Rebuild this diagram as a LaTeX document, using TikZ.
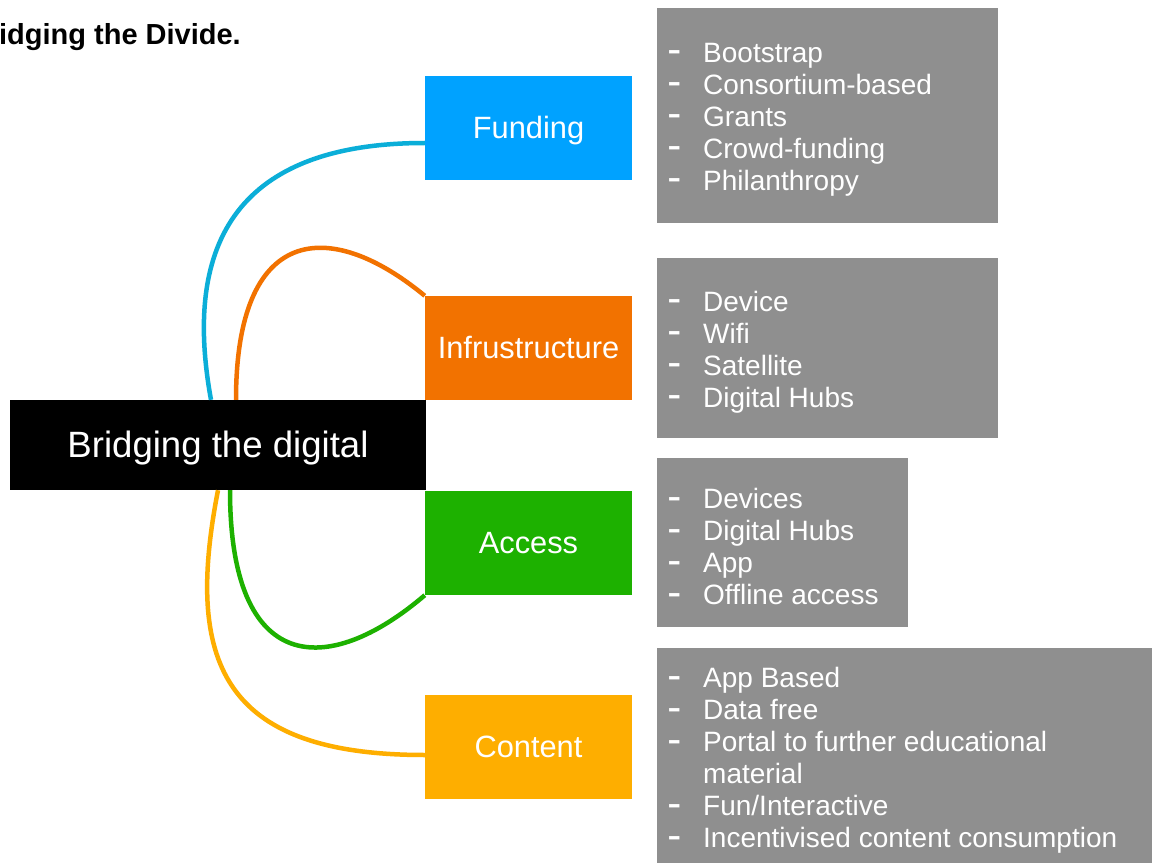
\documentclass[tikz,border=0pt]{standalone}
\usepackage{fontspec}
\setmainfont{Liberation Sans}
\definecolor{fundblue}{HTML}{00A2FF}
\definecolor{linkblue}{HTML}{0BAED8}
\definecolor{infraorange}{HTML}{F27200}
\definecolor{accgreen}{HTML}{1DB100}
\definecolor{contyellow}{HTML}{FEAE00}
\definecolor{listgray}{HTML}{8F8F8F}
\newcommand{\itemdash}{\makebox[35pt][l]{\hspace{-0.5pt}\raisebox{2.5pt}{\scalebox{1.45}[1]{\bfseries -}}}}
\newcommand{\itemgap}{\makebox[35pt][l]{}}
\tikzset{
  catbox/.style={rectangle, inner sep=0pt, minimum width=207pt, minimum height=104pt,
    text height=21.5pt, text depth=0pt,
    text=white, font=\fontsize{30.8}{34}\selectfont},
  listbox/.style={rectangle, fill=listgray, anchor=north west, inner sep=0pt},
  listtext/.style={inner sep=0pt, align=left, text=white, font=\fontsize{28}{32}\selectfont},
  link/.style={line width=4.5pt}
}
\begin{document}
\begin{tikzpicture}[x=1pt, y=-1pt]
\clip (0,0) rectangle (1152,864);
\useasboundingbox (0,0) rectangle (1152,864);
\fill[white] (0,0) rectangle (1152,864);

% title
\node[anchor=base east, inner sep=0pt, font=\fontsize{29}{32}\selectfont\bfseries] (title) at (241,45) {Bridging the Divide.};

% central node
\node[rectangle, fill=black, inner sep=0pt, minimum width=416pt, minimum height=90pt,
  text height=25.5pt, text depth=0pt,
  text=white, font=\fontsize{36.6}{40}\selectfont] (c) at (218,445) {Bridging the digital};

% category boxes
\node[catbox, fill=fundblue] (f) at (528.5,128) {Funding};
\node[catbox, fill=infraorange] (i) at (528.5,348) {Infrustructure};
\node[catbox, fill=accgreen] (a) at (528.5,543) {Access};
\node[catbox, fill=contyellow] (t) at (528.5,747) {Content};

% list boxes
\node[listbox, minimum width=341pt, minimum height=215pt] (lf) at (657,8) {};
\node[listtext, anchor=west] (lft) at ([xshift=11pt, yshift=-4pt]lf.west)
  {\itemdash Bootstrap\\ \itemdash Consortium-based\\ \itemdash Grants\\ \itemdash Crowd-funding\\ \itemdash Philanthropy};
\node[listbox, minimum width=341pt, minimum height=180pt] (li) at (657,258) {};
\node[listtext, anchor=west] (lit) at ([xshift=11pt, yshift=-4pt]li.west)
  {\itemdash Device\\ \itemdash Wifi\\ \itemdash Satellite\\ \itemdash Digital Hubs};
\node[listbox, minimum width=251pt, minimum height=169pt] (la) at (657,458) {};
\node[listtext, anchor=west] (lat) at ([xshift=11pt, yshift=-4pt]la.west)
  {\itemdash Devices\\ \itemdash Digital Hubs\\ \itemdash App\\ \itemdash Offline access};
\node[listbox, minimum width=500pt, minimum height=215pt] (lt) at (657,648) {};
\node[listtext, anchor=west] (ltt) at ([xshift=11pt, yshift=-5pt]lt.west)
  {\itemdash App Based\\ \itemdash Data free\\ \itemdash Portal to further educational\\ \itemgap material\\ \itemdash Fun/Interactive\\ \itemdash Incentivised content consumption};

% connectors
\draw[link, linkblue] ([xshift=-7pt]c.north) .. controls (180,230) and (250,143) .. ([yshift=-15pt]f.west);
\draw[link, infraorange] ([xshift=18pt]c.north) .. controls (236,226) and (328,216) .. (i.north west);
\draw[link, accgreen] ([xshift=12pt]c.south) .. controls (230,676) and (328,678) .. (a.south west);
\draw[link, contyellow] (c.south) .. controls (185,660) and (220,755) .. ([yshift=-8pt]t.west);
\end{tikzpicture}
\end{document}
